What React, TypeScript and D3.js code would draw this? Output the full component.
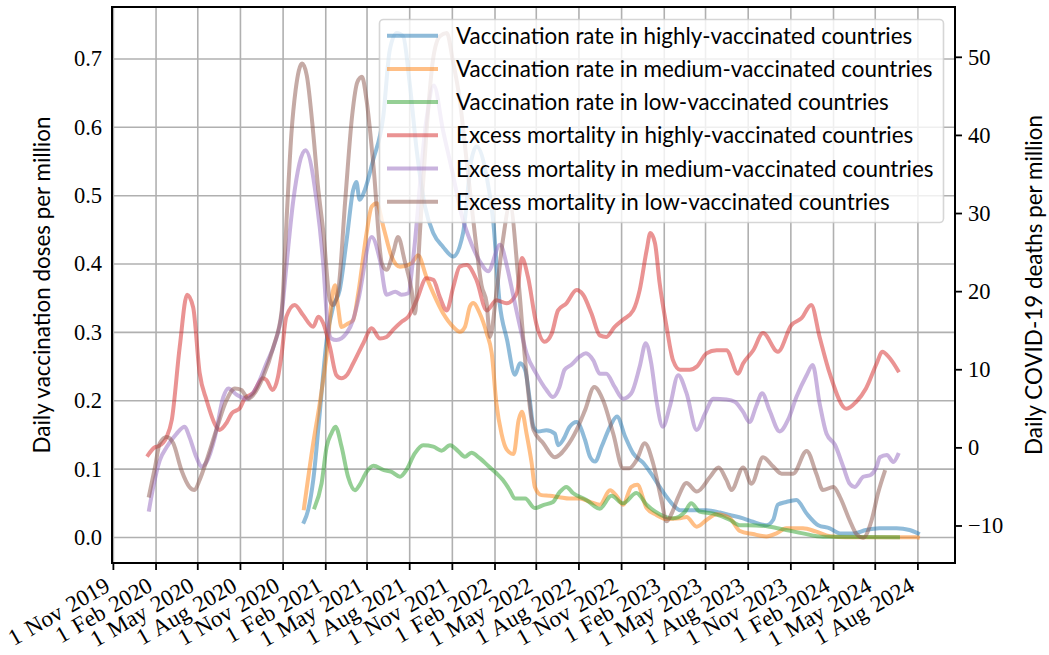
import React from "react";
import * as d3 from "d3";

type Pt = [string, number];

const W = 1049;
const H = 655;
const PLOT = { left: 112, right: 955, top: 7, bottom: 563 };

const xDomainDates: string[] = ["2019-10-29", "2024-10-20"];
const xTickStart = "2019-11-01";
const xTickEnd = "2024-08-02";
const yLeftDomain: [number, number] = [-0.0373, 0.776];
const yRightDomain: [number, number] = [-14.74, 56.44];
const leftTicks: number[] = [0, 0.1, 0.2, 0.3, 0.4, 0.5, 0.6, 0.7];
const rightTicks: number[] = [-10, 0, 10, 20, 30, 40, 50];

const leftLabel = "Daily vaccination doses per million";
const rightLabel = "Daily COVID-19 deaths per million";

const vaccHigh: Pt[] = [
  ["2020-12-16", 0.023], ["2020-12-25", 0.04], ["2021-01-05", 0.084], ["2021-01-19", 0.182],
  ["2021-02-03", 0.289], ["2021-02-17", 0.338], ["2021-03-03", 0.362], ["2021-03-18", 0.435],
  ["2021-04-01", 0.508], ["2021-04-08", 0.52], ["2021-04-15", 0.494], ["2021-04-26", 0.508],
  ["2021-05-14", 0.552], ["2021-06-05", 0.616], ["2021-06-19", 0.713], ["2021-07-04", 0.738],
  ["2021-07-18", 0.733], ["2021-08-01", 0.664], ["2021-08-16", 0.567], ["2021-09-03", 0.484],
  ["2021-09-21", 0.445], ["2021-10-12", 0.425], ["2021-11-03", 0.411], ["2021-11-24", 0.445],
  ["2021-12-12", 0.552], ["2021-12-23", 0.572], ["2022-01-14", 0.528], ["2022-01-28", 0.464],
  ["2022-02-11", 0.343], ["2022-02-27", 0.289], ["2022-03-16", 0.238], ["2022-03-27", 0.255],
  ["2022-04-07", 0.245], ["2022-04-17", 0.201], ["2022-04-25", 0.162], ["2022-05-05", 0.155],
  ["2022-05-23", 0.157], ["2022-06-10", 0.152], ["2022-06-17", 0.135], ["2022-06-28", 0.143],
  ["2022-07-12", 0.162], ["2022-07-27", 0.169], ["2022-08-14", 0.143], ["2022-08-25", 0.118],
  ["2022-09-05", 0.111], ["2022-09-19", 0.133], ["2022-10-07", 0.162], ["2022-10-22", 0.177],
  ["2022-11-09", 0.147], ["2022-11-26", 0.123], ["2022-12-18", 0.109], ["2023-01-08", 0.089],
  ["2023-01-29", 0.067], ["2023-02-17", 0.05], ["2023-03-07", 0.04], ["2023-04-04", 0.04],
  ["2023-05-03", 0.04], ["2023-06-01", 0.0366], ["2023-06-22", 0.033], ["2023-07-21", 0.028],
  ["2023-08-11", 0.023], ["2023-09-09", 0.018], ["2023-09-24", 0.026], ["2023-10-04", 0.048],
  ["2023-10-22", 0.052], ["2023-11-13", 0.055], ["2023-12-05", 0.035], ["2023-12-30", 0.018],
  ["2024-01-24", 0.0135], ["2024-02-15", 0.006], ["2024-03-15", 0.006], ["2024-04-11", 0.011],
  ["2024-05-10", 0.0135], ["2024-06-16", 0.0135], ["2024-07-14", 0.011], ["2024-08-01", 0.006],
];

const vaccMedium: Pt[] = [
  ["2020-12-16", 0.0427], ["2021-01-05", 0.138], ["2021-01-19", 0.196], ["2021-02-03", 0.269],
  ["2021-02-17", 0.362], ["2021-02-21", 0.369], ["2021-02-27", 0.34], ["2021-03-07", 0.308],
  ["2021-03-21", 0.313], ["2021-04-01", 0.318], ["2021-04-12", 0.357], ["2021-04-30", 0.445],
  ["2021-05-11", 0.484], ["2021-05-22", 0.489], ["2021-06-05", 0.455], ["2021-06-23", 0.411],
  ["2021-07-11", 0.396], ["2021-08-05", 0.401], ["2021-08-19", 0.413], ["2021-09-06", 0.381],
  ["2021-09-21", 0.357], ["2021-10-12", 0.328], ["2021-11-03", 0.308], ["2021-11-17", 0.301],
  ["2021-11-28", 0.308], ["2021-12-09", 0.338], ["2021-12-16", 0.343], ["2021-12-30", 0.328],
  ["2022-01-14", 0.299], ["2022-01-25", 0.269], ["2022-02-04", 0.196], ["2022-02-15", 0.152],
  ["2022-02-26", 0.129], ["2022-03-13", 0.122], ["2022-03-24", 0.172], ["2022-03-31", 0.184],
  ["2022-04-10", 0.152], ["2022-04-21", 0.109], ["2022-04-28", 0.074], ["2022-05-12", 0.062],
  ["2022-05-30", 0.061], ["2022-06-20", 0.059], ["2022-07-12", 0.057], ["2022-08-03", 0.057],
  ["2022-08-25", 0.052], ["2022-09-15", 0.048], ["2022-10-07", 0.069], ["2022-10-22", 0.06],
  ["2022-11-04", 0.048], ["2022-11-22", 0.074], ["2022-12-05", 0.077], ["2022-12-25", 0.043],
  ["2023-01-15", 0.033], ["2023-02-06", 0.027], ["2023-03-07", 0.028], ["2023-03-21", 0.03],
  ["2023-04-12", 0.0158], ["2023-05-03", 0.0256], ["2023-05-25", 0.034], ["2023-06-22", 0.0285],
  ["2023-07-14", 0.0095], ["2023-08-11", 0.005], ["2023-09-09", 0.0015], ["2023-10-01", 0.006],
  ["2023-10-22", 0.0135], ["2023-11-27", 0.0135], ["2023-12-26", 0.0085], ["2024-01-24", 0.002],
  ["2024-02-29", 0.0003], ["2024-07-28", 0.0003], ["2024-08-01", 0.0],
];

const vaccLow: Pt[] = [
  ["2021-01-08", 0.0439], ["2021-01-23", 0.0793], ["2021-02-03", 0.133], ["2021-02-13", 0.152],
  ["2021-02-22", 0.162], ["2021-03-07", 0.133], ["2021-03-21", 0.089], ["2021-04-05", 0.069],
  ["2021-04-15", 0.077], ["2021-04-30", 0.096], ["2021-05-15", 0.105], ["2021-06-05", 0.099],
  ["2021-06-23", 0.096], ["2021-07-11", 0.089], ["2021-07-25", 0.099], ["2021-08-12", 0.123],
  ["2021-08-30", 0.135], ["2021-09-21", 0.133], ["2021-10-09", 0.127], ["2021-10-27", 0.135],
  ["2021-11-14", 0.126], ["2021-11-28", 0.118], ["2021-12-12", 0.124], ["2021-12-30", 0.116],
  ["2022-01-17", 0.105], ["2022-02-04", 0.094], ["2022-02-18", 0.084], ["2022-03-05", 0.069],
  ["2022-03-16", 0.057], ["2022-04-07", 0.057], ["2022-04-28", 0.043], ["2022-05-16", 0.0475],
  ["2022-06-06", 0.052], ["2022-06-20", 0.066], ["2022-07-05", 0.074], ["2022-07-19", 0.065],
  ["2022-08-17", 0.055], ["2022-09-15", 0.042], ["2022-10-10", 0.061], ["2022-11-04", 0.05],
  ["2022-12-03", 0.065], ["2022-12-25", 0.048], ["2023-01-22", 0.034], ["2023-02-20", 0.028],
  ["2023-03-17", 0.037], ["2023-03-31", 0.05], ["2023-04-18", 0.038], ["2023-05-18", 0.035],
  ["2023-06-22", 0.026], ["2023-07-14", 0.018], ["2023-08-18", 0.0176], ["2023-09-16", 0.0158],
  ["2023-10-22", 0.011], ["2023-11-27", 0.006], ["2024-01-09", 0.001], ["2024-06-19", 0.0003],
];

const excessHigh: Pt[] = [
  ["2020-01-15", -0.9], ["2020-01-30", 0.1], ["2020-02-06", 0.2], ["2020-02-24", 1.4],
  ["2020-03-06", 3.6], ["2020-03-23", 12.9], ["2020-04-08", 19.6], ["2020-04-21", 18.0],
  ["2020-05-05", 9.6], ["2020-05-20", 6.1], ["2020-06-10", 2.7], ["2020-06-17", 2.3],
  ["2020-07-02", 3.2], ["2020-07-13", 4.4], ["2020-07-31", 5.1], ["2020-08-11", 6.4],
  ["2020-08-28", 7.0], ["2020-09-18", 8.9], ["2020-09-26", 8.7], ["2020-10-09", 7.4],
  ["2020-10-21", 9.1], ["2020-10-29", 12.1], ["2020-11-08", 16.8], ["2020-11-26", 18.3],
  ["2020-12-14", 17.0], ["2021-01-05", 15.5], ["2021-01-16", 16.8], ["2021-01-27", 15.9],
  ["2021-02-10", 12.9], ["2021-02-24", 9.3], ["2021-03-07", 8.9], ["2021-03-18", 9.3],
  ["2021-04-01", 10.8], ["2021-04-23", 13.4], ["2021-05-11", 15.3], ["2021-05-29", 14.0],
  ["2021-06-12", 14.2], ["2021-06-26", 15.1], ["2021-07-14", 16.1], ["2021-07-29", 16.8],
  ["2021-08-16", 18.9], ["2021-09-06", 21.7], ["2021-09-21", 21.5], ["2021-10-05", 19.3],
  ["2021-10-20", 17.6], ["2021-11-03", 20.6], ["2021-11-17", 23.2], ["2021-12-02", 23.4],
  ["2021-12-23", 21.5], ["2022-01-14", 17.6], ["2022-02-04", 18.9], ["2022-02-26", 18.5],
  ["2022-03-20", 19.8], ["2022-03-31", 24.3], ["2022-04-13", 21.9], ["2022-05-01", 15.9],
  ["2022-05-19", 13.6], ["2022-06-03", 14.6], ["2022-06-17", 17.6], ["2022-07-05", 18.5],
  ["2022-07-27", 20.2], ["2022-08-10", 19.6], ["2022-08-28", 17.2], ["2022-09-15", 14.4],
  ["2022-09-29", 14.2], ["2022-10-17", 15.5], ["2022-11-04", 16.4], ["2022-11-26", 17.6],
  ["2022-12-10", 20.2], ["2022-12-25", 25.3], ["2023-01-02", 27.5], ["2023-01-12", 26.2],
  ["2023-01-22", 21.1], ["2023-02-06", 15.5], ["2023-02-20", 11.2], ["2023-03-07", 10.0],
  ["2023-03-28", 10.0], ["2023-04-12", 10.4], ["2023-05-03", 12.1], ["2023-05-25", 12.5],
  ["2023-06-15", 12.5], ["2023-07-10", 9.5], ["2023-07-21", 10.8], ["2023-08-12", 12.5],
  ["2023-09-02", 14.7], ["2023-10-04", 12.3], ["2023-11-02", 15.7], ["2023-11-24", 16.6],
  ["2023-12-15", 18.3], ["2024-01-02", 14.2], ["2024-01-24", 9.5], ["2024-02-29", 5.0],
  ["2024-03-21", 5.9], ["2024-04-11", 7.6], ["2024-05-04", 10.8], ["2024-05-16", 12.3],
  ["2024-06-01", 11.5], ["2024-06-19", 9.9],
];

const excessMedium: Pt[] = [
  ["2020-01-17", -7.9], ["2020-01-26", -5.0], ["2020-02-09", -1.6], ["2020-02-24", 0.1],
  ["2020-03-16", 1.8], ["2020-04-03", 2.7], ["2020-04-13", 1.4], ["2020-04-28", -1.2],
  ["2020-05-09", -2.4], ["2020-05-20", -1.8], ["2020-06-07", 1.4], ["2020-06-25", 6.5],
  ["2020-07-06", 7.6], ["2020-07-24", 6.8], ["2020-08-14", 6.3], ["2020-09-05", 7.8],
  ["2020-09-26", 10.8], ["2020-10-14", 13.4], ["2020-10-29", 17.2], ["2020-11-08", 23.2],
  ["2020-11-23", 31.7], ["2020-12-19", 38.1], ["2021-01-12", 31.7], ["2021-01-27", 23.2],
  ["2021-02-03", 17.2], ["2021-02-13", 14.0], ["2021-02-24", 13.8], ["2021-03-18", 14.7],
  ["2021-04-01", 16.4], ["2021-04-12", 18.9], ["2021-05-11", 27.0], ["2021-05-29", 24.0],
  ["2021-06-12", 19.6], ["2021-07-01", 20.0], ["2021-07-14", 19.6], ["2021-07-29", 19.8],
  ["2021-08-08", 24.0], ["2021-09-06", 42.0], ["2021-09-22", 46.4], ["2021-10-12", 40.6],
  ["2021-10-31", 35.6], ["2021-11-21", 29.8], ["2021-12-13", 26.0], ["2021-12-31", 23.8],
  ["2022-01-17", 22.6], ["2022-02-12", 26.0], ["2022-02-27", 23.2], ["2022-03-13", 19.3],
  ["2022-03-27", 15.5], ["2022-04-10", 12.1], ["2022-05-01", 9.5], ["2022-05-23", 7.4],
  ["2022-06-06", 6.5], ["2022-06-20", 7.8], ["2022-07-01", 10.0], ["2022-07-15", 10.6],
  ["2022-08-03", 11.7], ["2022-08-16", 12.1], ["2022-09-01", 11.2], ["2022-09-15", 9.5],
  ["2022-09-29", 9.5], ["2022-10-17", 7.8], ["2022-11-04", 6.3], ["2022-11-22", 7.0],
  ["2022-12-10", 10.4], ["2022-12-23", 13.4], ["2023-01-04", 10.8], ["2023-01-15", 6.1],
  ["2023-01-29", 2.7], ["2023-02-13", 5.3], ["2023-03-03", 9.3], ["2023-03-21", 7.0],
  ["2023-04-12", 2.3], ["2023-04-30", 4.4], ["2023-05-18", 6.3], ["2023-06-15", 6.2],
  ["2023-07-03", 5.9], ["2023-07-21", 4.6], ["2023-08-04", 3.3], ["2023-08-18", 5.3],
  ["2023-08-31", 7.0], ["2023-09-16", 4.8], ["2023-10-08", 2.1], ["2023-10-26", 3.6],
  ["2023-11-13", 6.5], ["2023-12-05", 9.3], ["2023-12-18", 10.6], ["2024-01-02", 5.7],
  ["2024-01-17", 1.8], ["2024-02-04", 0.4], ["2024-02-22", -2.4], ["2024-03-07", -4.6],
  ["2024-03-18", -5.0], ["2024-04-05", -3.7], ["2024-04-20", -3.5], ["2024-05-04", -2.4],
  ["2024-05-11", -1.2], ["2024-05-26", -0.9], ["2024-06-09", -1.8], ["2024-06-19", -0.9],
];

const excessLow: Pt[] = [
  ["2020-01-17", -6.1], ["2020-01-30", -2.4], ["2020-02-09", 0.6], ["2020-02-24", 1.4],
  ["2020-03-09", 0.6], ["2020-03-27", -2.9], ["2020-04-13", -5.0], ["2020-04-24", -5.4],
  ["2020-05-05", -4.1], ["2020-05-20", -1.6], ["2020-06-10", 2.3], ["2020-07-02", 6.1],
  ["2020-07-20", 7.6], ["2020-08-03", 7.4], ["2020-08-18", 6.3], ["2020-08-29", 6.8],
  ["2020-09-19", 9.1], ["2020-10-11", 12.9], ["2020-10-29", 17.6], ["2020-11-09", 29.8],
  ["2020-11-19", 40.3], ["2020-11-28", 45.8], ["2020-12-12", 49.2], ["2020-12-22", 47.7],
  ["2021-01-05", 40.3], ["2021-01-15", 33.6], ["2021-01-27", 27.5], ["2021-02-10", 18.9],
  ["2021-02-17", 18.3], ["2021-02-28", 20.2], ["2021-03-15", 31.7], ["2021-03-30", 42.6],
  ["2021-04-10", 46.8], ["2021-04-20", 47.5], ["2021-04-30", 44.5], ["2021-05-15", 36.0],
  ["2021-06-02", 23.6], ["2021-06-12", 22.8], ["2021-06-26", 24.9], ["2021-07-07", 27.0],
  ["2021-07-21", 24.0], ["2021-08-05", 20.2], ["2021-08-12", 17.2], ["2021-08-23", 27.5],
  ["2021-09-06", 40.3], ["2021-09-20", 49.6], ["2021-10-05", 52.7], ["2021-10-20", 53.1],
  ["2021-11-02", 49.6], ["2021-11-17", 44.5], ["2021-12-04", 35.5], ["2021-12-21", 26.6],
  ["2022-01-03", 20.8], ["2022-01-14", 18.5], ["2022-01-21", 14.2], ["2022-02-04", 19.8],
  ["2022-02-18", 26.6], ["2022-03-05", 31.1], ["2022-03-24", 21.1], ["2022-04-07", 11.2],
  ["2022-04-25", 2.3], ["2022-05-16", 0.6], ["2022-06-10", -1.2], ["2022-07-05", 0.1],
  ["2022-07-27", 2.3], ["2022-08-14", 4.8], ["2022-09-03", 7.8], ["2022-09-22", 6.1],
  ["2022-10-14", 1.8], ["2022-11-04", -2.6], ["2022-11-18", -2.6], ["2022-12-03", -1.6],
  ["2022-12-21", 0.6], ["2023-01-08", -2.0], ["2023-01-26", -6.7], ["2023-02-06", -9.4],
  ["2023-02-17", -8.4], ["2023-03-03", -6.3], ["2023-03-21", -4.5], ["2023-04-12", -5.6],
  ["2023-05-11", -3.7], ["2023-05-29", -2.5], ["2023-06-15", -4.1], ["2023-06-26", -5.4],
  ["2023-07-21", -2.5], ["2023-08-08", -4.6], ["2023-09-02", -1.2], ["2023-09-24", -2.4],
  ["2023-10-12", -3.3], ["2023-11-06", -3.3], ["2023-12-05", -0.4], ["2023-12-26", -3.3],
  ["2024-01-09", -5.4], ["2024-02-01", -5.0], ["2024-02-15", -6.3], ["2024-03-07", -9.3],
  ["2024-03-21", -11.0], ["2024-04-05", -11.5], ["2024-04-23", -9.3], ["2024-05-07", -5.8],
  ["2024-05-21", -3.1],
];

const seriesLabels: string[] = [
  "Vaccination rate in highly-vaccinated countries",
  "Vaccination rate in medium-vaccinated countries",
  "Vaccination rate in low-vaccinated countries",
  "Excess mortality in highly-vaccinated countries",
  "Excess mortality in medium-vaccinated countries",
  "Excess mortality in low-vaccinated countries",
];
const seriesColors: string[] = ["#1f77b4", "#ff7f0e", "#2ca02c", "#d62728", "#9467bd", "#8c564b"];
const seriesData: Pt[][] = [vaccHigh, vaccMedium, vaccLow, excessHigh, excessMedium, excessLow];
const seriesAxis: ("left" | "right")[] = ["left", "left", "left", "right", "right", "right"];

const parse = d3.utcParse("%Y-%m-%d");
const serif = "'Liberation Serif', 'DejaVu Serif', serif";
const sans = "Lato, 'Open Sans', 'DejaVu Sans', sans-serif";

export default function App() {
  const x = d3
    .scaleUtc()
    .domain(xDomainDates.map((s) => parse(s) as Date))
    .range([PLOT.left, PLOT.right]);
  const yL = d3.scaleLinear().domain(yLeftDomain).range([PLOT.bottom, PLOT.top]);
  const yR = d3.scaleLinear().domain(yRightDomain).range([PLOT.bottom, PLOT.top]);
  const xTicks = d3.utcMonth.range(parse(xTickStart) as Date, parse(xTickEnd) as Date, 3);
  const fmtDate = d3.utcFormat("%-d %b %Y");
  const fmtL = d3.format(".1f");
  const fmtR = (v: number) => (v < 0 ? "\u2212" + Math.abs(v) : String(v));

  const makeLine = (axis: "left" | "right") =>
    d3
      .line<Pt>()
      .x((d) => x(parse(d[0]) as Date))
      .y((d) => (axis === "left" ? yL(d[1]) : yR(d[1])))
      .curve(d3.curveMonotoneX);

  const lw = 4;
  const legend = { x: 379.5, y: 19.5, w: 564, h: 203, row0: 35.7, step: 33.2 };

  return (
    <svg
      width={W}
      height={H}
      style={{ position: "absolute", left: 0, top: 0, background: "#fff" }}
    >
      <defs>
        <clipPath id="plotclip">
          <rect x={PLOT.left} y={PLOT.top} width={PLOT.right - PLOT.left} height={PLOT.bottom - PLOT.top} />
        </clipPath>
      </defs>
      <rect x={0} y={0} width={W} height={H} fill="#fff" />
      {/* grid */}
      <g stroke="#b0b0b0" strokeWidth={1.6}>
        {xTicks.map((t, i) => (
          <line key={"gx" + i} x1={x(t)} x2={x(t)} y1={PLOT.top} y2={PLOT.bottom} />
        ))}
        {leftTicks.map((t, i) => (
          <line key={"gy" + i} x1={PLOT.left} x2={PLOT.right} y1={yL(t)} y2={yL(t)} />
        ))}
      </g>
      {/* series */}
      <g clipPath="url(#plotclip)" fill="none" strokeLinejoin="round" strokeLinecap="square">
        {seriesData.map((data, i) => (
          <path
            key={"s" + i}
            d={makeLine(seriesAxis[i])(data) || ""}
            stroke={seriesColors[i]}
            strokeOpacity={0.5}
            strokeWidth={lw}
          />
        ))}
      </g>
      {/* spines */}
      <rect
        x={PLOT.left}
        y={PLOT.top}
        width={PLOT.right - PLOT.left}
        height={PLOT.bottom - PLOT.top}
        fill="none"
        stroke="#000"
        strokeWidth={2}
      />
      {/* x ticks */}
      <g>
        {xTicks.map((t, i) => (
          <g key={"xt" + i}>
            <line x1={x(t)} x2={x(t)} y1={PLOT.bottom} y2={PLOT.bottom + 7} stroke="#000" strokeWidth={1.8} />
            <text
              transform={`translate(${x(t) - 2},${PLOT.bottom + 27}) rotate(-30)`}
              textAnchor="end"
              fontFamily={serif}
              fontSize={23}
              wordSpacing={2}
              fill="#000"
            >
              {fmtDate(t)}
            </text>
          </g>
        ))}
      </g>
      {/* left tick labels */}
      <g>
        {leftTicks.map((t, i) => (
          <text
            key={"yl" + i}
            x={102}
            y={yL(t)}
            dy="0.33em"
            textAnchor="end"
            fontFamily={serif}
            fontSize={22.5}
            fill="#000"
          >
            {fmtL(t)}
          </text>
        ))}
      </g>
      {/* right ticks */}
      <g>
        {rightTicks.map((t, i) => (
          <g key={"yr" + i}>
            <line x1={PLOT.right} x2={PLOT.right + 7} y1={yR(t)} y2={yR(t)} stroke="#000" strokeWidth={1.8} />
            <text
              x={968}
              y={yR(t)}
              dy="0.33em"
              textAnchor="start"
              fontFamily={serif}
              fontSize={22.5}
              fill="#000"
            >
              {fmtR(t)}
            </text>
          </g>
        ))}
      </g>
      {/* axis labels */}
      <text
        transform={`translate(50,${(PLOT.top + PLOT.bottom) / 2}) rotate(-90)`}
        textAnchor="middle"
        fontFamily={sans}
        fontSize={22.4}
        fill="#000"
      >
        {leftLabel}
      </text>
      <text
        transform={`translate(1042,${(PLOT.top + PLOT.bottom) / 2}) rotate(-90)`}
        textAnchor="middle"
        fontFamily={sans}
        fontSize={22.4}
        fill="#000"
      >
        {rightLabel}
      </text>
      {/* legend */}
      <g>
        <rect
          x={legend.x}
          y={legend.y}
          width={legend.w}
          height={legend.h}
          rx={4}
          ry={4}
          fill="#fff"
          fillOpacity={0.8}
          stroke="#cccccc"
          strokeOpacity={0.8}
          strokeWidth={1.6}
        />
        {seriesLabels.map((lab, i) => {
          const yy = legend.row0 + i * legend.step;
          return (
            <g key={"lg" + i}>
              <line
                x1={387}
                x2={438}
                y1={yy}
                y2={yy}
                stroke={seriesColors[i]}
                strokeOpacity={0.5}
                strokeWidth={lw}
              />
              <text
                x={456}
                y={yy}
                dy="0.36em"
                fontFamily={sans}
                fontSize={22.4}
                fill="#000"
              >
                {lab}
              </text>
            </g>
          );
        })}
      </g>
    </svg>
  );
}
